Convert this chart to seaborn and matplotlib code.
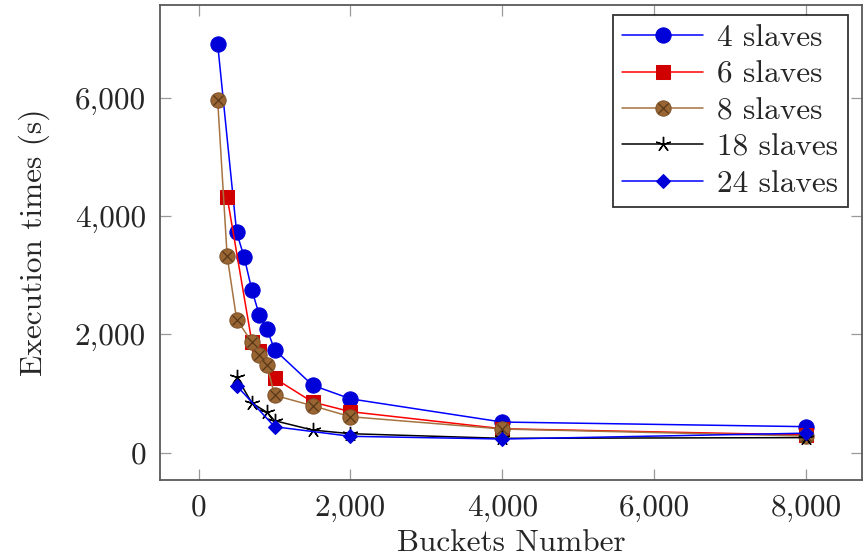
import matplotlib
matplotlib.use("Agg")
import matplotlib.pyplot as plt
import matplotlib.ticker as mticker
from matplotlib.legend_handler import HandlerTuple
import seaborn as sns
import pandas as pd

# ---- data ----
x_4 = [250, 500, 600, 700, 800, 900, 1000, 1500, 2000, 4000, 8000]
y_4 = [6900, 3720, 3300, 2750, 2320, 2085, 1740, 1140, 910, 518, 440]

x_6 = [375, 700, 800, 1000, 1500, 2000, 4000, 8000]
y_6 = [4320, 1870, 1720, 1257, 856, 693, 405, 300]

x_8 = [250, 375, 500, 700, 800, 900, 1000, 1500, 2000, 4000, 8000]
y_8 = [5950, 3320, 2250, 1870, 1645, 1476, 970, 794, 608, 400, 282]

x_18 = [500, 700, 900, 1000, 1500, 2000, 4000, 8000]
y_18 = [1284, 840, 682, 541, 383, 321, 243, 255]

x_24 = [500, 1000, 2000, 4000, 8000]
y_24 = [1132, 439, 277, 231, 330]

labels = ["4 slaves", "6 slaves", "8 slaves", "18 slaves", "24 slaves"]
x_ticks = [0, 2000, 4000, 6000, 8000]
y_ticks = [0, 2000, 4000, 6000]

sns.set_style("white")
plt.rcParams["font.family"] = ["cmr10", "DejaVu Serif"]
plt.rcParams["axes.unicode_minus"] = False
plt.rcParams["mathtext.fontset"] = "cm"
FS = 22.5

fig = plt.figure(figsize=(8.68, 5.58), dpi=100)
ax = fig.add_axes([160 / 868, 1 - 480 / 558, 702 / 868, 475 / 558])

blue = (0, 0, 1)
blue_f = (0, 0, 0.85)
red = (1, 0, 0)
red_f = (0.82, 0, 0)
brown = (0.65, 0.45, 0.25)
brown_f = (0.6, 0.4, 0.2)

series = [
    (x_4, y_4, blue, dict(marker="o", markersize=11, markerfacecolor=blue_f, markeredgecolor=blue_f)),
    (x_6, y_6, red, dict(marker="s", markersize=10, markerfacecolor=red_f, markeredgecolor=red_f)),
    (x_8, y_8, brown, dict(marker="o", markersize=11, markerfacecolor=brown_f, markeredgecolor=(0.5, 0.33, 0.17))),
    (x_18, y_18, "black", dict(marker=(5, 2, 0), markersize=11, markeredgecolor="black", markeredgewidth=1.0)),
    (x_24, y_24, blue, dict(marker="D", markersize=7.5, markerfacecolor=blue_f, markeredgecolor=blue_f)),
]

handles = []
for (xs, ys, col, mk), lab in zip(series, labels):
    df = pd.DataFrame({"x": xs, "y": ys})
    sns.lineplot(data=df, x="x", y="y", ax=ax, color=col, linewidth=1.1,
                 estimator=None, sort=False, **mk)
    line = ax.get_lines()[-1]
    h = line
    if lab == "8 slaves":
        ov = ax.plot(xs, ys, linestyle="none", marker="x", markersize=7,
                     markeredgecolor=(0.35, 0.22, 0.1), markeredgewidth=0.9)[0]
        h = (line, ov)
    handles.append(h)

ax.set_xlim(-510, 8740)
ax.set_ylim(-461, 7563)
ax.set_xticks(x_ticks)
ax.set_yticks(y_ticks)
fmt = mticker.FuncFormatter(lambda v, p: f"{int(v):,}")
ax.xaxis.set_major_formatter(fmt)
ax.yaxis.set_major_formatter(fmt)
ax.tick_params(axis="both", which="major", direction="in", length=8, width=0.9,
               color=(0.6, 0.6, 0.6), labelsize=FS, top=True, right=True,
               bottom=True, left=True, pad=10)
for s in ax.spines.values():
    s.set_color((0.35, 0.35, 0.35))
    s.set_linewidth(1.3)

ax.set_xlabel("Buckets Number", fontsize=FS, labelpad=5)
ax.set_ylabel("Execution times (s)", fontsize=FS, labelpad=18)

leg = ax.legend(handles, labels, loc="upper right", bbox_to_anchor=(0.980, 0.979),
                borderaxespad=0, fontsize=FS, frameon=True, fancybox=False,
                handlelength=2.6, handletextpad=0.45, labelspacing=0.27,
                borderpad=0.3, handler_map={tuple: HandlerTuple(ndivide=1)})
leg.get_frame().set_edgecolor("black")
leg.get_frame().set_linewidth(1.3)

fig.savefig("out.png", dpi=100)
